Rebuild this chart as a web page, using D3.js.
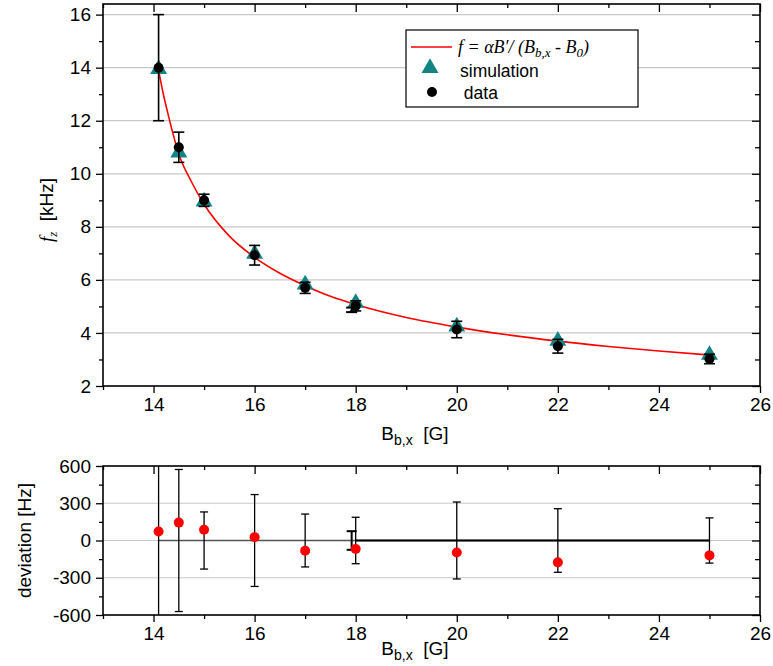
<!DOCTYPE html>
<html>
<head>
<meta charset="utf-8">
<script src="https://cdn.jsdelivr.net/npm/d3@7"></script>
<style>
  body { margin: 0; background: #fff; }
  svg { display: block; }
  text { font-family: Arial, "Liberation Sans", sans-serif; fill: #000; }
</style>
</head>
<body>
<svg id="chart" width="773" height="666"></svg>
<script>
// Bias field B_b,x [G] of each measurement
const field = [14.1, 14.5, 15, 16, 17, 18, 20, 22, 25];
// Measured trap frequency f_z [kHz] and its uncertainty
const measured = [14.0, 11.0, 9.0, 6.93, 5.7, 5.02, 4.13, 3.5, 3.02];
const measuredErr = [2.0, 0.57, 0.23, 0.37, 0.21, 0.19, 0.31, 0.26, 0.18];
// Simulated trap frequency [kHz]
const simulated = [13.95, 10.8, 8.95, 6.98, 5.82, 5.13, 4.24, 3.7, 3.17];
// Additional reference point just below 18 G
const extraField = [17.92];
const extraValue = [4.87];
const extraErr = [0.085];
const extraDevErr = [75];
// Fitted curve f = alpha B' / (B_b,x - B_0), sampled along B_b,x
const fitField = [14.1, 14.2, 14.3, 14.4, 14.5, 14.75, 15, 15.5, 16, 16.5, 17, 17.5, 18, 19, 20, 21, 22, 23, 24, 25];
const fitValue = [13.9, 12.95, 12.15, 11.4, 10.75, 9.7, 8.85, 7.65, 6.85, 6.25, 5.78, 5.38, 5.07, 4.58, 4.22, 3.93, 3.69, 3.49, 3.32, 3.17];
// Deviation of the data from the fit [Hz] and the uncertainty band
const deviation = [72, 144, 86, 27, -82, -69, -96, -176, -120];
const deviationErr = [2000, 572, 230, 370, 213, 187, 310, 256, 182];
// Zero reference of the residuals
const zeroRef = [14.1, 25];
const zeroRefBold = [18, 25];

// Tick values
const xMajor = [14, 16, 18, 20, 22, 24, 26];
const xMinor = [13, 15, 17, 19, 21, 23, 25];
const yMajor = [2, 4, 6, 8, 10, 12, 14, 16];
const yMinor = [3, 5, 7, 9, 11, 13, 15];
const devMajor = [-600, -300, 0, 300, 600];
const devMinor = [-450, -150, 150, 450];

const svg = d3.select("#chart");
const L = 103, R = 760;
const top1 = 4, bot1 = 386;
const top2 = 466, bot2 = 615;

const x = d3.scaleLinear().domain([13, 26]).range([L, R]);
const y = d3.scaleLinear().domain([2, 16.4]).range([bot1, top1]);
const yd = d3.scaleLinear().domain([-600, 600]).range([bot2, top2]);

const defs = svg.append("defs");
defs.append("clipPath").attr("id", "clipTop")
  .append("rect").attr("x", L).attr("y", top1).attr("width", R - L).attr("height", bot1 - top1);
defs.append("clipPath").attr("id", "clipDev")
  .append("rect").attr("x", L).attr("y", top2).attr("width", R - L).attr("height", bot2 - top2);

const tickFont = "19px";

function styleAxis(g, labels) {
  g.select(".domain").remove();
  g.selectAll(".tick line").attr("stroke", "#000").attr("stroke-width", 1.3);
  if (labels) g.selectAll(".tick text").style("font-size", tickFont).attr("fill", "#000");
}

function frameAxes(yScale, yMaj, yMin, t, b, fmt) {
  // grid lines
  svg.append("g").selectAll("line").data(yMaj.filter(v => yScale(v) > t + 1 && yScale(v) < b - 1)).join("line")
    .attr("x1", L).attr("x2", R)
    .attr("y1", d => yScale(d)).attr("y2", d => yScale(d))
    .attr("stroke", "#c8c8c8").attr("stroke-width", 1.2);

  // bottom axis
  svg.append("g").attr("transform", `translate(0,${b})`)
    .call(d3.axisBottom(x).tickValues(xMajor).tickSize(7).tickPadding(5).tickFormat(d => String(d)))
    .call(g => styleAxis(g, true));
  svg.append("g").attr("transform", `translate(0,${b})`)
    .call(d3.axisBottom(x).tickValues(xMinor).tickSize(4).tickFormat(""))
    .call(g => styleAxis(g, false));
  // top axis, ticks inward
  svg.append("g").attr("transform", `translate(0,${t})`)
    .call(d3.axisTop(x).tickValues(xMajor).tickSize(-8).tickFormat(""))
    .call(g => styleAxis(g, false));
  svg.append("g").attr("transform", `translate(0,${t})`)
    .call(d3.axisTop(x).tickValues(xMinor).tickSize(-4).tickFormat(""))
    .call(g => styleAxis(g, false));
  // left axis
  svg.append("g").attr("transform", `translate(${L},0)`)
    .call(d3.axisLeft(yScale).tickValues(yMaj).tickSize(7).tickPadding(5).tickFormat(fmt))
    .call(g => styleAxis(g, true));
  svg.append("g").attr("transform", `translate(${L},0)`)
    .call(d3.axisLeft(yScale).tickValues(yMin).tickSize(4).tickFormat(""))
    .call(g => styleAxis(g, false));
  // right axis, ticks inward
  svg.append("g").attr("transform", `translate(${R},0)`)
    .call(d3.axisRight(yScale).tickValues(yMaj).tickSize(-8).tickFormat(""))
    .call(g => styleAxis(g, false));
  svg.append("g").attr("transform", `translate(${R},0)`)
    .call(d3.axisRight(yScale).tickValues(yMin).tickSize(-5).tickFormat(""))
    .call(g => styleAxis(g, false));
}

function frame(t, b) {
  svg.append("rect").attr("x", L).attr("y", t).attr("width", R - L).attr("height", b - t)
    .attr("fill", "none").attr("stroke", "#000").attr("stroke-width", 1.6);
}

function xTitle(yPos) {
  const t = svg.append("text").attr("x", 415).attr("y", yPos).attr("text-anchor", "middle")
    .style("font-size", "19px");
  t.append("tspan").text("B");
  t.append("tspan").attr("dy", 5).style("font-size", "14px").text("b,x");
  t.append("tspan").attr("dy", -5).text("\u00a0\u00a0[G]");
}

// ---------- upper panel: trap frequency ----------
frameAxes(y, yMajor, yMinor, top1, bot1, d => String(d));

const plotTop = svg.append("g").attr("clip-path", "url(#clipTop)");

// fit curve
const fitPts = fitField.map((b, i) => [b, fitValue[i]]);
plotTop.append("path").datum(fitPts)
  .attr("d", d3.line().x(d => x(d[0])).y(d => y(d[1])).curve(d3.curveMonotoneX))
  .attr("fill", "none").attr("stroke", "#ff0000").attr("stroke-width", 1.6);

// simulation triangles
const tri = d3.symbol().type(d3.symbolTriangle).size(125);
plotTop.append("g").selectAll("path").data(field.map((b, i) => [b, simulated[i]])).join("path")
  .attr("transform", d => `translate(${x(d[0])},${y(d[1])})`)
  .attr("d", tri).attr("fill", "#138484");

// error bars
function errorBars(g, xs, vs, es, yScale, cap, width) {
  const data = xs.map((b, i) => ({ b, lo: vs[i] - es[i], hi: vs[i] + es[i] }));
  const eg = g.append("g").attr("stroke", "#000").attr("stroke-width", width);
  eg.selectAll(".v").data(data).join("line")
    .attr("x1", d => x(d.b)).attr("x2", d => x(d.b))
    .attr("y1", d => yScale(d.lo)).attr("y2", d => yScale(d.hi));
  eg.selectAll(".c1").data(data).join("line")
    .attr("x1", d => x(d.b) - cap).attr("x2", d => x(d.b) + cap)
    .attr("y1", d => yScale(d.lo)).attr("y2", d => yScale(d.lo));
  eg.selectAll(".c2").data(data).join("line")
    .attr("x1", d => x(d.b) - cap).attr("x2", d => x(d.b) + cap)
    .attr("y1", d => yScale(d.hi)).attr("y2", d => yScale(d.hi));
}
errorBars(plotTop, field, measured, measuredErr, y, 5.5, 1.6);
errorBars(plotTop, extraField, extraValue, extraErr, y, 5.5, 2);

// measured dots
plotTop.append("g").selectAll("circle").data(field.map((b, i) => [b, measured[i]])).join("circle")
  .attr("cx", d => x(d[0])).attr("cy", d => y(d[1])).attr("r", 5).attr("fill", "#000");

frame(top1, bot1);

// y title
const yt = svg.append("text").attr("transform", `translate(53,${(top1 + bot1) / 2 + 15}) rotate(-90)`)
  .attr("text-anchor", "middle").style("font-size", "19px");
yt.append("tspan").style("font-family", "'Liberation Serif','Times New Roman',serif").style("font-style", "italic").text("f");
yt.append("tspan").attr("dy", 4).style("font-family", "'Liberation Serif','Times New Roman',serif").style("font-style", "italic").style("font-size", "13px").text("z");
yt.append("tspan").attr("dy", -4).text("\u00a0\u00a0[kHz]");

xTitle(440);

// legend
const lg = svg.append("g");
lg.append("rect").attr("x", 406).attr("y", 30).attr("width", 232).attr("height", 77)
  .attr("fill", "#fff").attr("stroke", "#000").attr("stroke-width", 1.2);
lg.append("line").attr("x1", 411).attr("x2", 452).attr("y1", 47).attr("y2", 47)
  .attr("stroke", "#ff0000").attr("stroke-width", 1.6);
const ft = lg.append("text").attr("x", 458).attr("y", 53)
  .style("font-family", "'Liberation Serif','Times New Roman',serif").style("font-style", "italic").style("font-size", "18px");
ft.append("tspan").text("f = \u03b1B\u2032/ (B");
ft.append("tspan").attr("dy", 4).style("font-size", "13px").text("b,x");
ft.append("tspan").attr("dy", -4).text(" - B");
ft.append("tspan").attr("dy", 4).style("font-size", "13px").text("0");
ft.append("tspan").attr("dy", -4).text(")");
lg.append("path").attr("transform", "translate(430,68)").attr("d", tri).attr("fill", "#138484");
lg.append("text").attr("x", 460).attr("y", 77).style("font-size", "17.5px").text("simulation");
lg.append("circle").attr("cx", 432).attr("cy", 92).attr("r", 5).attr("fill", "#000");
lg.append("text").attr("x", 459).attr("y", 99).style("font-size", "17.5px").text("\u00a0data");

// ---------- lower panel: deviation ----------
frameAxes(yd, devMajor, devMinor, top2, bot2, d => String(d));

const plotDev = svg.append("g").attr("clip-path", "url(#clipDev)");
plotDev.append("line").attr("x1", x(zeroRef[0])).attr("x2", x(zeroRef[1]))
  .attr("y1", yd(0)).attr("y2", yd(0)).attr("stroke", "#555").attr("stroke-width", 1.3);
plotDev.append("line").attr("x1", x(zeroRefBold[0])).attr("x2", x(zeroRefBold[1]))
  .attr("y1", yd(0)).attr("y2", yd(0)).attr("stroke", "#000").attr("stroke-width", 2);

errorBars(plotDev, field, field.map(() => 0), deviationErr, yd, 4, 1.3);
errorBars(plotDev, extraField, [0], extraDevErr, yd, 5, 2);

plotDev.append("g").selectAll("circle").data(field.map((b, i) => [b, deviation[i]])).join("circle")
  .attr("cx", d => x(d[0])).attr("cy", d => yd(d[1])).attr("r", 5).attr("fill", "#ff0000");

frame(top2, bot2);

svg.append("text").attr("transform", `translate(31,${(top2 + bot2) / 2}) rotate(-90)`)
  .attr("text-anchor", "middle").style("font-size", "19px").text("deviation [Hz]");

xTitle(655);
</script>
</body>
</html>
